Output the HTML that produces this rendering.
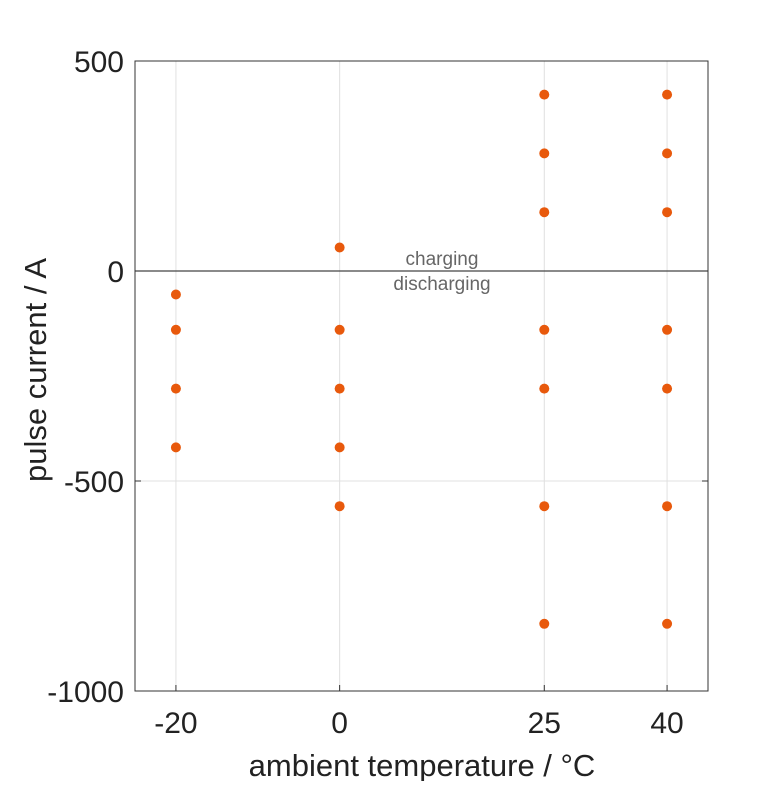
<!DOCTYPE html>
<html><head><meta charset="utf-8"><style>body{margin:0;background:#fff}svg{font-family:"Liberation Sans",Arial,sans-serif}</style></head>
<body>
<svg id="c" width="781" height="781"></svg>
<script>
const temps=[-20,-20,-20,-20, 0,0,0,0,0, 25,25,25,25,25,25,25, 40,40,40,40,40,40,40];
const currents=[-56,-140,-280,-420, 56,-140,-280,-420,-560, 420,280,140,-140,-280,-560,-840, 420,280,140,-140,-280,-560,-840];
const xTicks=[-20,0,25,40];
const yTicks=[500,0,-500,-1000];
const L=135,R=708,T=61,B=691,x0=-25,x1=45,y0=-1000,y1=500;
const sx=v=>L+(v-x0)/(x1-x0)*(R-L);
const sy=v=>B-(v-y0)/(y1-y0)*(B-T);
const s=document.getElementById('c'),N='http://www.w3.org/2000/svg';
function mk(t,a,p){const e=document.createElementNS(N,t);for(const k in a)e.setAttribute(k,a[k]);(p||s).appendChild(e);return e;}
const grid=mk('g',{});


xTicks.forEach(v=>{mk('line',{x1:sx(v),x2:sx(v),y1:T,y2:B,stroke:'#e0e0e0','stroke-width':1},grid);
 mk('line',{x1:sx(v),x2:sx(v),y1:B,y2:B-6,stroke:'#333'},grid);
 const t=mk('text',{x:sx(v),y:B+42,'font-size':30,'text-anchor':'middle',fill:'#222'});t.textContent=v;
 
 });
yTicks.forEach(v=>{mk('line',{x1:L,x2:R,y1:sy(v),y2:sy(v),stroke:'#e0e0e0'},grid);
 mk('line',{x1:L,x2:L+6,y1:sy(v),y2:sy(v),stroke:'#333'},grid);
 mk('line',{x1:R,x2:R-6,y1:sy(v),y2:sy(v),stroke:'#333'},grid);
 const t=mk('text',{x:L-11,y:sy(v)+11,'font-size':30,'text-anchor':'end',fill:'#222'});t.textContent=v;
 
 });
const z=mk('line',{x1:L,x2:R,y1:sy(0),y2:sy(0),stroke:'#444','stroke-width':1.3});


const fr=mk('rect',{x:L,y:T,width:R-L,height:B-T,fill:'none',stroke:'#333','stroke-width':1});


temps.forEach((t,i)=>{const c=mk('circle',{cx:sx(t),cy:sy(currents[i]),r:5,fill:'#e8590c'});
 
 });
const a=mk('text',{x:442,y:265,'font-size':19,'text-anchor':'middle',fill:'#666'});a.textContent='charging';


const b=mk('text',{x:442,y:290,'font-size':19,'text-anchor':'middle',fill:'#666'});b.textContent='discharging';


const xt=mk('text',{x:422,y:776,'font-size':31,'text-anchor':'middle',fill:'#222'});xt.textContent='ambient temperature / °C';


const yt=mk('text',{x:0,y:0,'font-size':31,'text-anchor':'middle',fill:'#222',transform:'translate(46,370) rotate(-90)'});yt.textContent='pulse current / A';


</script>
</body></html>
